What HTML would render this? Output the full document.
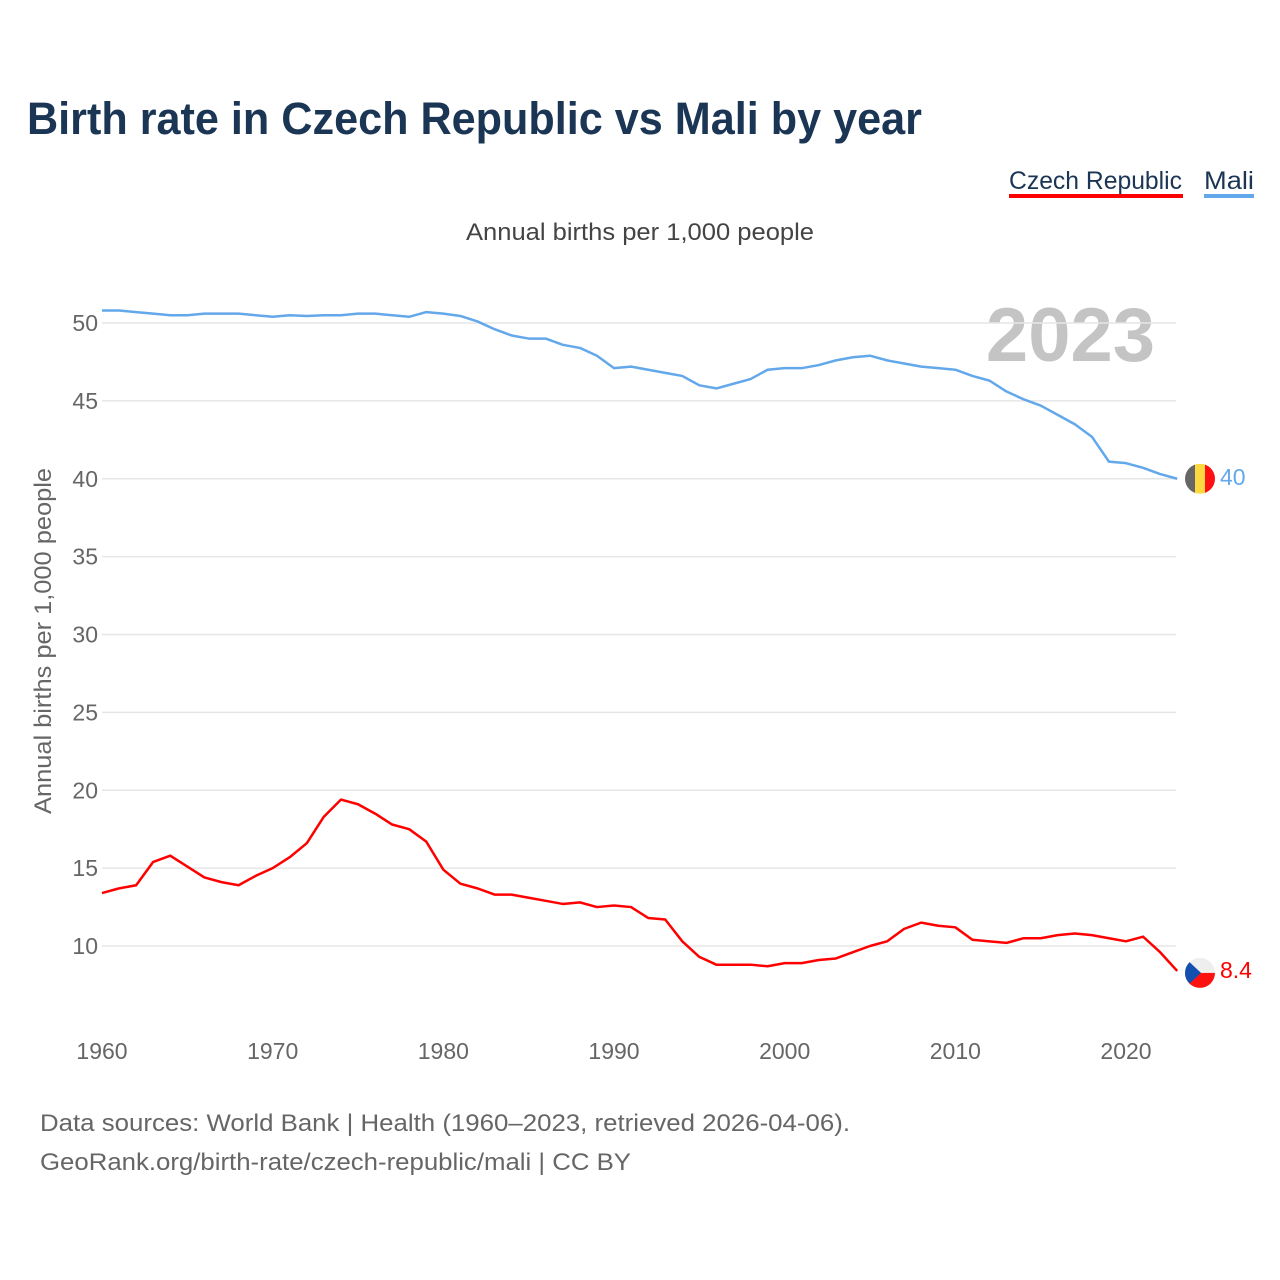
<!DOCTYPE html>
<html><head><meta charset="utf-8">
<style>
body{margin:0;background:#fff;font-family:"Liberation Sans",sans-serif;}
#wrap{position:relative;width:1280px;height:1280px;overflow:hidden;}
</style></head>
<body>
<div id="wrap">
<svg id="chart" width="1280" height="1280">
  <text x="27" y="134" font-size="45" font-weight="bold" fill="#1b3554" textLength="895" lengthAdjust="spacingAndGlyphs">Birth rate in Czech Republic vs Mali by year</text>
  <g>
    <text x="1009" y="189" font-size="25" fill="#1b3554" textLength="173" lengthAdjust="spacingAndGlyphs">Czech Republic</text>
    <rect x="1009" y="194" width="174" height="4" fill="#ff0000"/>
  </g>
  <g>
    <text x="1204" y="189" font-size="25" fill="#1b3554" textLength="50" lengthAdjust="spacingAndGlyphs">Mali</text>
    <rect x="1204" y="194" width="50" height="4" fill="#63a8ea"/>
  </g>
  <text x="466" y="240" font-size="24" fill="#444" textLength="348" lengthAdjust="spacingAndGlyphs">Annual births per 1,000 people</text>
  <text x="1155" y="361" text-anchor="end" font-size="76" font-weight="bold" fill="#c4c4c4">2023</text>
  <text transform="translate(51,814) rotate(-90)" font-size="24" fill="#666" textLength="346" lengthAdjust="spacingAndGlyphs">Annual births per 1,000 people</text>
  <g id="grid"></g><g id="yt"></g><g id="xt"></g><g id="lines"></g>
  <text x="40" y="1131" font-size="24" fill="#666" textLength="810" lengthAdjust="spacingAndGlyphs">Data sources: World Bank | Health (1960–2023, retrieved 2026-04-06).</text>
  <text x="40" y="1170" font-size="24" fill="#666" textLength="591" lengthAdjust="spacingAndGlyphs">GeoRank.org/birth-rate/czech-republic/mali | CC BY</text>
</svg>
</div>
<script>
const years=[];for(let y=1960;y<=2023;y++)years.push(y);
const czech=[13.4,13.7,13.9,15.4,15.8,15.1,14.4,14.1,13.9,14.5,15.0,15.7,16.6,18.3,19.4,19.1,18.5,17.8,17.5,16.7,14.9,14.0,13.7,13.3,13.3,13.1,12.9,12.7,12.8,12.5,12.6,12.5,11.8,11.7,10.3,9.3,8.8,8.8,8.8,8.7,8.9,8.9,9.1,9.2,9.6,10.0,10.3,11.1,11.5,11.3,11.2,10.4,10.3,10.2,10.5,10.5,10.7,10.8,10.7,10.5,10.3,10.6,9.6,8.4];
const mali=[50.8,50.8,50.7,50.6,50.5,50.5,50.6,50.6,50.6,50.5,50.4,50.5,50.45,50.5,50.5,50.6,50.6,50.5,50.4,50.7,50.6,50.45,50.1,49.6,49.2,49.0,49.0,48.6,48.4,47.9,47.1,47.2,47.0,46.8,46.6,46.0,45.8,46.1,46.4,47.0,47.1,47.1,47.3,47.6,47.8,47.9,47.6,47.4,47.2,47.1,47.0,46.6,46.3,45.6,45.1,44.7,44.1,43.5,42.7,41.1,41.0,40.7,40.3,40.0];
const yTicks=[10,15,20,25,30,35,40,45,50];
const xTicks=[1960,1970,1980,1990,2000,2010,2020];
const X=y=>102+(y-1960)*1024/60;
const Y=v=>946-(v-10)*623/40;
const NS="http://www.w3.org/2000/svg";
function mk(t,a,p){const e=document.createElementNS(NS,t);for(const k in a)e.setAttribute(k,a[k]);p.appendChild(e);return e;}
const grid=document.getElementById('grid'),yt=document.getElementById('yt'),xt=document.getElementById('xt'),lines=document.getElementById('lines');
yTicks.forEach(v=>{
  const l=mk('line',{x1:102,x2:1176,y1:Y(v),y2:Y(v),stroke:'#e6e6e6','stroke-width':1.5},grid);
  
  
  const t=mk('text',{x:98,y:Y(v)+8,'text-anchor':'end','font-size':23,fill:'#666'},yt);
  t.textContent=v;
  
  
});
xTicks.forEach(v=>{
  const t=mk('text',{x:X(v),y:1059,'text-anchor':'middle','font-size':23,fill:'#666'},xt);
  t.textContent=v;
  
  
});
function series(data,color,name){
  const p=mk('polyline',{points:data.map((v,i)=>X(years[i])+','+Y(v)).join(' '),fill:'none',stroke:color,'stroke-width':2.5,'stroke-linejoin':'round'},lines);
  
  
}
series(mali,'#63a8ea','mali');
series(czech,'#ff0000','czech');
const lastM=mali[mali.length-1],lastC=czech[czech.length-1];
const fm=mk('g',{},lines);


mk('clipPath',{id:'cm'},fm).appendChild(document.createElementNS(NS,'circle'));
const cm=document.querySelector('#cm circle');cm.setAttribute('cx',1200);cm.setAttribute('cy',Y(lastM));cm.setAttribute('r',15);
const gm=mk('g',{'clip-path':'url(#cm)'},fm);
mk('rect',{x:1185,y:Y(lastM)-15,width:10,height:30,fill:'#666'},gm);
mk('rect',{x:1195,y:Y(lastM)-15,width:10,height:30,fill:'#fcd841'},gm);
mk('rect',{x:1205,y:Y(lastM)-15,width:10,height:30,fill:'#ff1010'},gm);
const lm=mk('text',{x:1220,y:Y(lastM)+6,'font-size':23,fill:'#63a8ea'},lines);
lm.textContent=Math.round(lastM);


const fc=mk('g',{},lines);


const cy=Y(lastC)+2;
mk('clipPath',{id:'cc'},fc).appendChild(document.createElementNS(NS,'circle'));
const cc=document.querySelector('#cc circle');cc.setAttribute('cx',1200);cc.setAttribute('cy',cy);cc.setAttribute('r',15);
const gc=mk('g',{'clip-path':'url(#cc)'},fc);
mk('rect',{x:1185,y:cy-15,width:30,height:15,fill:'#eee'},gc);
mk('rect',{x:1185,y:cy,width:30,height:15,fill:'#ff1010'},gc);
mk('polygon',{points:`1185,${cy-15} 1201,${cy} 1185,${cy+15}`,fill:'#1150b0'},gc);
const lc=mk('text',{x:1220,y:Y(lastC)+7,'font-size':23,fill:'#ff0000'},lines);
lc.textContent=lastC;


</script>
</body></html>
